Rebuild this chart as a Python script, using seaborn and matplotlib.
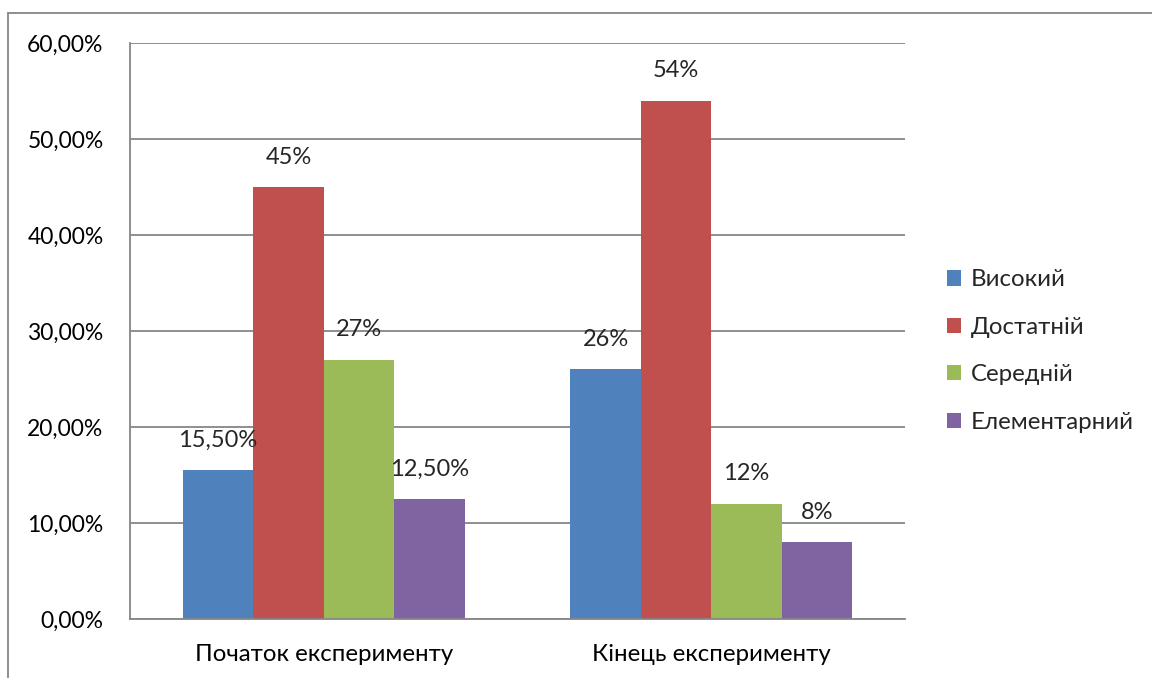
import matplotlib
matplotlib.use("Agg")
import matplotlib.pyplot as plt
import seaborn as sns
import pandas as pd
from matplotlib.patches import Patch
from matplotlib.lines import Line2D
from matplotlib.ticker import FuncFormatter

# ---- data ----
categories = ["Початок експерименту", "Кінець експерименту"]
levels = ["Високий", "Достатній", "Середній", "Елементарний"]
start_values = [15.5, 45, 27, 12.5]
end_values = [26, 54, 12, 8]
start_labels = ["15,50%", "45%", "27%", "12,50%"]
end_labels = ["26%", "54%", "12%", "8%"]
colors = ["#4F81BD", "#C0504D", "#9BBB59", "#8064A2"]

rows = []
for lvl, v in zip(levels, start_values):
    rows.append({"stage": categories[0], "level": lvl, "value": v})
for lvl, v in zip(levels, end_values):
    rows.append({"stage": categories[1], "level": lvl, "value": v})
df = pd.DataFrame(rows)

sns.set_theme(style="white")
plt.rcParams["font.family"] = ["Lato", "DejaVu Sans"]
FS = 16.5
FS_CYR = 17.3
GRAY = "#868686"

fig = plt.figure(figsize=(11.52, 6.78), dpi=100)
ax = fig.add_axes([130 / 1152, 1 - 619 / 678, (905 - 130) / 1152, (619 - 43) / 678])

sns.barplot(data=df, x="stage", y="value", hue="level", order=categories,
            hue_order=levels, palette=colors, width=0.727, gap=0,
            saturation=1, ax=ax, legend=False, linewidth=0, errorbar=None)

ax.set_ylim(0, 60)
ax.set_xlim(-0.5, 1.5)
ax.set_yticks([0, 10, 20, 30, 40, 50, 60])
ax.yaxis.set_major_formatter(FuncFormatter(lambda v, p: f"{v:.2f}%".replace(".", ",")))
ax.set_xlabel("")
ax.set_ylabel("")
ax.set_xticks([-0.5, 0.5, 1.5], minor=False)
ax.set_xticklabels(["", "", ""])
ax.set_xticks([0, 1], minor=True)
ax.set_xticklabels(categories, minor=True)
ax.tick_params(axis="x", which="minor", length=0, pad=18, labelsize=FS_CYR, colors="black")
ax.tick_params(axis="x", which="major", length=7, width=1.3, color=GRAY, direction="out")
ax.tick_params(axis="y", length=7, width=1.3, color=GRAY, direction="out", pad=12,
               labelsize=FS, labelcolor="black")
ax.yaxis.grid(True, color=GRAY, linewidth=1.3)
ax.set_axisbelow(True)
for s in ["top", "right"]:
    ax.spines[s].set_visible(False)
for s in ["left", "bottom"]:
    ax.spines[s].set_color(GRAY)
    ax.spines[s].set_linewidth(1.3)

# data labels
all_labels = {}
for lvl, l1, l2 in zip(levels, start_labels, end_labels):
    all_labels[lvl] = (l1, l2)
for container, lvl in zip(ax.containers, levels):
    ax.bar_label(container, labels=list(all_labels[lvl]), padding=14, fontsize=FS + 0.5)

# legend
handles = [Patch(facecolor=c, edgecolor="none") for c in colors]
fig.legend(handles, levels, loc="center left", bbox_to_anchor=(925 / 1152, 1 - 351 / 678),
           frameon=False, fontsize=FS_CYR, handlelength=0.6, handleheight=0.6,
           handletextpad=0.4, labelspacing=1.1)

# outer border
fig.add_artist(Line2D([8 / 1152, 8 / 1152], [0, 1 - 13 / 678], transform=fig.transFigure,
                      color=GRAY, linewidth=1.3))
fig.add_artist(Line2D([8 / 1152, 1], [1 - 13 / 678, 1 - 13 / 678], transform=fig.transFigure,
                      color=GRAY, linewidth=1.3))

fig.savefig("out.png", dpi=100)
